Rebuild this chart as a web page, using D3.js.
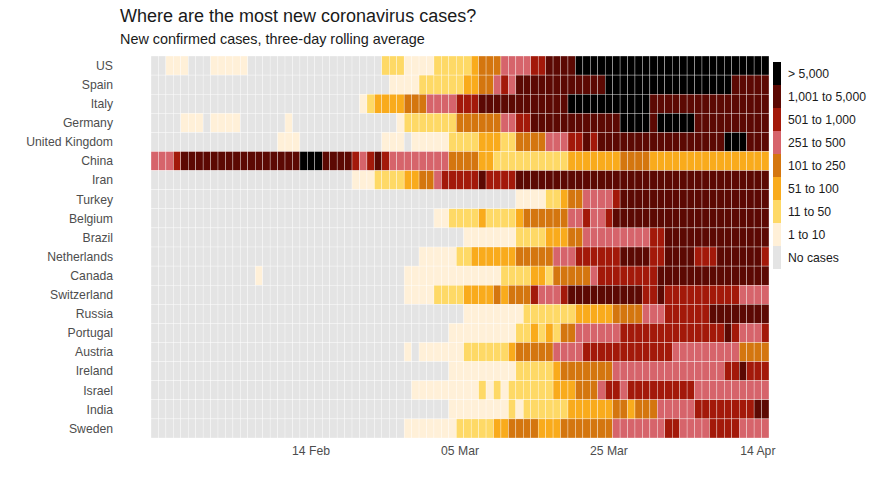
<!DOCTYPE html>
<html>
<head>
<meta charset="utf-8">
<script src="https://cdn.jsdelivr.net/npm/d3@7"></script>
<style>
  html, body { margin: 0; padding: 0; background: #fff; }
  svg { display: block; font-family: "Liberation Sans", Arial, sans-serif; }
</style>
</head>
<body>
<svg id="chart" width="875" height="483"></svg>
<script>
// ---------------- DATA ----------------
const countries = ["US","Spain","Italy","Germany","United Kingdom","China","Iran","Turkey","Belgium","Brazil",
  "Netherlands","Canada","Switzerland","Russia","Portugal","Austria","Ireland","Israel","India","Sweden"];

// first and last day shown (three-day rolling average)
const firstDay = "2020-01-24";
const lastDay = "2020-04-15";

const tickDates = ["2020-02-14", "2020-03-05", "2020-03-25", "2020-04-14"];

// legend bins (index = category code used in the rows below)
const binLabels = ["No cases", "1 to 10", "11 to 50", "51 to 100", "101 to 250", "251 to 500", "501 to 1,000", "1,001 to 5,000", "> 5,000"];
const binColors = ["#e4e4e4", "#fff0d8", "#fed966", "#f9ab1c", "#d4760f", "#d6646b", "#a3190a", "#5c0903", "#000000"];

// category code per day (blocks of 10 days)
const US          = "0011100011 1110000000 0000000000 0222111122 2223444555 5667777888 8888888888 8888888888 888";
const Spain       = "0000000000 0000000000 0000000000 0011112222 2233445657 7777777777 7888888888 8888888877 777";
const Italy       = "0000000000 0000000000 0000000012 3333444555 5666777777 7777778888 8888888777 7777777777 777";
const Germany     = "0000111011 1100000010 0000000000 0001222222 2444444556 6777777777 7778888788 8887777777 777";
const UK          = "0000000000 0000000111 0000000000 0111011111 2222333224 4445556676 7777777777 7777777888 777";
const China       = "5556777777 7777777777 8887777656 7655555555 4444332222 2222223333 3334444333 3333333333 333";
const Iran        = "0000000000 0000000000 0000000111 2222334456 6666766667 7777777777 7777777777 7777777777 777";
const Turkey      = "0000000000 0000000000 0000000000 0000000000 0000000001 1112234455 5567777777 7777777777 777";
const Belgium     = "0000000000 0000000000 0000000000 0000000011 2222322223 4444445565 5677777777 7777777777 777";
const Brazil      = "0000000000 0000000000 0000000000 0000000000 0011111112 2223334455 5555555667 7777777777 777";
const Netherlands = "0000000000 0000000000 0000000000 0000001111 1223333334 4444555666 6667777667 7776667777 776";
const Canada      = "0000000000 0000100000 0000000000 0000111111 1111111222 2332444445 6666666677 7777777777 777";
const Switzerland = "0000000000 0000000000 0000000000 0000111122 2233334344 4655567777 7777776676 6666666665 555";
const Russia      = "0000000000 0000000000 0000000000 0000000000 0011111111 2222222333 3344445556 6666677777 777";
const Portugal    = "0000000000 0000000000 0000000000 0000000000 1111111112 2323244555 5556666666 6666666765 556";
const Austria     = "0000000000 0000000000 0000000000 0000101111 1122222234 4444555566 6666666666 5555555554 444";
const Ireland     = "0000000000 0000000000 0000000000 0000000000 1111111112 2222344444 4455555555 5555555667 666";
const Israel      = "0000000000 0000000000 0000000000 0000011111 1111212122 2222333444 5665666666 6665555555 555";
const India       = "0000000000 0000000000 0000000000 0000000000 1111111121 2222223333 3344344455 5556666666 677";
const Sweden      = "0000000000 0000000000 0000000000 0000111111 1222223344 4433344444 4455555556 6555566665 555";

const rows = [US, Spain, Italy, Germany, UK, China, Iran, Turkey, Belgium, Brazil,
  Netherlands, Canada, Switzerland, Russia, Portugal, Austria, Ireland, Israel, India, Sweden];

// ---------------- CHART ----------------
const svg = d3.select("#chart");
const parse = d3.timeParse("%Y-%m-%d");
const days = d3.timeDay.range(parse(firstDay), d3.timeDay.offset(parse(lastDay), 1));
const fmtKey = d3.timeFormat("%Y-%m-%d");

const x = d3.scaleBand().domain(days.map(fmtKey)).range([151, 769]).paddingInner(0).paddingOuter(0);
const y = d3.scaleBand().domain(countries).range([56, 438]).padding(0);
const color = d3.scaleOrdinal().domain(d3.range(binLabels.length)).range(binColors);

const cells = [];
countries.forEach((c, i) => {
  const codes = rows[i].replace(/\s+/g, "").split("").map(Number);
  codes.forEach((v, j) => cells.push({ country: c, day: fmtKey(days[j]), v }));
});

svg.append("g")
  .selectAll("rect")
  .data(cells)
  .join("rect")
  .attr("x", d => x(d.day))
  .attr("y", d => y(d.country))
  .attr("width", x.bandwidth())
  .attr("height", y.bandwidth())
  .attr("fill", d => color(d.v))
  .attr("stroke", "#ffffff")
  .attr("stroke-opacity", 0.8)
  .attr("stroke-width", 0.4);

// y axis labels
svg.append("g")
  .selectAll("text")
  .data(countries)
  .join("text")
  .attr("x", 113)
  .attr("y", d => y(d) + y.bandwidth() / 2)
  .attr("dy", "0.35em")
  .attr("text-anchor", "end")
  .attr("font-size", "12.2px")
  .attr("fill", "#4d4d4d")
  .text(d => d);

// x axis labels
const fmtTick = d3.timeFormat("%d %b");
svg.append("g")
  .selectAll("text")
  .data(tickDates)
  .join("text")
  .attr("x", d => x(d) + x.bandwidth() / 2)
  .attr("y", 455)
  .attr("text-anchor", "middle")
  .attr("font-size", "12.2px")
  .attr("fill", "#4d4d4d")
  .text(d => fmtTick(parse(d)));

// title + subtitle
svg.append("text").attr("x", 120).attr("y", 22)
  .attr("font-size", "18px").attr("fill", "#1a1a1a")
  .text("Where are the most new coronavirus cases?");
svg.append("text").attr("x", 120).attr("y", 44)
  .attr("font-size", "14.4px").attr("fill", "#1a1a1a")
  .text("New confirmed cases, three-day rolling average");

// legend
const legendOrder = d3.range(binLabels.length).reverse();
const keyH = 23, keyW = 8, legX = 773, legY = 62;
const lg = svg.append("g");
lg.selectAll("rect")
  .data(legendOrder)
  .join("rect")
  .attr("x", legX)
  .attr("y", (d, i) => legY + i * keyH)
  .attr("width", keyW)
  .attr("height", keyH)
  .attr("fill", d => color(d));
lg.selectAll("text")
  .data(legendOrder)
  .join("text")
  .attr("x", 788)
  .attr("y", (d, i) => legY + i * keyH + keyH / 2)
  .attr("dy", "0.35em")
  .attr("font-size", "12.2px")
  .attr("fill", "#1a1a1a")
  .text(d => binLabels[d]);
</script>
</body>
</html>
